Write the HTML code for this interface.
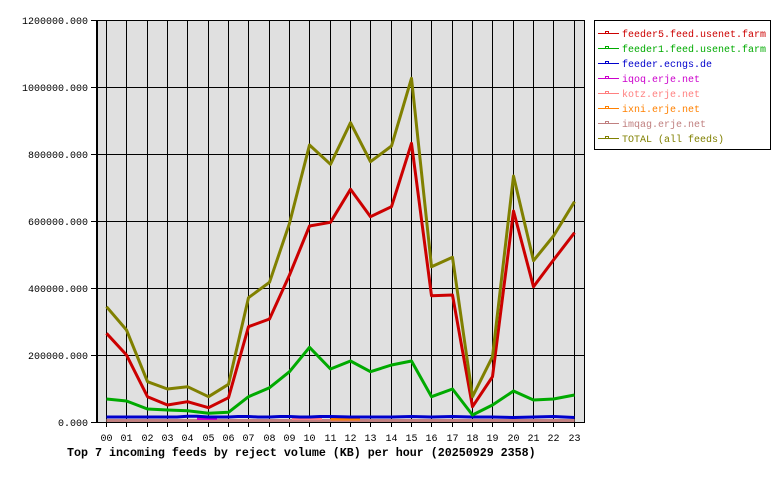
<!DOCTYPE html>
<html><head><meta charset="utf-8"><style>
html,body{margin:0;padding:0;background:#fff;}
svg{display:block;}
text{font-family:"Liberation Mono",monospace;}
</style></head><body>
<svg width="780" height="480" viewBox="0 0 780 480" xmlns="http://www.w3.org/2000/svg">
<rect x="0" y="0" width="780" height="480" fill="#fff"/>
<rect x="96" y="20" width="488" height="402" fill="#e0e0e0"/>
<g stroke="#000" stroke-width="1" shape-rendering="crispEdges" fill="none">
<path d="M106.5 20V427M126.5 20V427M147.5 20V427M167.5 20V427M187.5 20V427M208.5 20V427M228.5 20V427M248.5 20V427M269.5 20V427M289.5 20V427M309.5 20V427M330.5 20V427M350.5 20V427M370.5 20V427M391.5 20V427M411.5 20V427M431.5 20V427M452.5 20V427M472.5 20V427M492.5 20V427M513.5 20V427M533.5 20V427M553.5 20V427M574.5 20V427"/>
<path d="M91 20.5H584M91 87.5H584M91 154.5H584M91 221.5H584M91 288.5H584M91 355.5H584M91 422.5H584"/>
<path d="M96.5 20V423M584.5 20V423M97.5 20V423"/>
</g>
<g font-size="10" fill="#000" text-anchor="end">
<text x="88" y="24">1200000.000</text>
<text x="88" y="91">1000000.000</text>
<text x="88" y="158">800000.000</text>
<text x="88" y="225">600000.000</text>
<text x="88" y="292">400000.000</text>
<text x="88" y="359">200000.000</text>
<text x="88" y="426">0.000</text>
</g>
<g font-size="10" fill="#000" text-anchor="middle">
<text x="106.5" y="441">00</text><text x="126.5" y="441">01</text><text x="147.5" y="441">02</text><text x="167.5" y="441">03</text><text x="187.5" y="441">04</text><text x="208.5" y="441">05</text><text x="228.5" y="441">06</text><text x="248.5" y="441">07</text><text x="269.5" y="441">08</text><text x="289.5" y="441">09</text><text x="309.5" y="441">10</text><text x="330.5" y="441">11</text><text x="350.5" y="441">12</text><text x="370.5" y="441">13</text><text x="391.5" y="441">14</text><text x="411.5" y="441">15</text><text x="431.5" y="441">16</text><text x="452.5" y="441">17</text><text x="472.5" y="441">18</text><text x="492.5" y="441">19</text><text x="513.5" y="441">20</text><text x="533.5" y="441">21</text><text x="553.5" y="441">22</text><text x="574.5" y="441">23</text>
</g>
<text x="67" y="456" font-size="11.67" font-weight="bold" fill="#000">Top 7 incoming feeds by reject volume (KB) per hour (20250929 2358)</text>
<g fill="none" stroke-width="3" stroke-linejoin="round">
<polyline stroke="#c08080" points="106.5,420.5 574.5,420.5"/>
<polyline stroke="#ff8000" points="330.5,419 350.5,419 360,419"/>
<polyline stroke="#ff8080" points="292,418.5 322,418.5"/>
<polyline stroke="#cc00cc" points="197,418.5 217,418.5"/>
<polyline stroke="#0000cc" points="106.5,417 126.5,417 147.5,417 167.5,417 177,417 187.5,416.3 197,416.3 208.5,417 228.5,417 238,416.5 248.5,416.5 258,417 269.5,417 280,416.5 289.5,416.5 300,417 309.5,417 320,416.5 330.5,416.5 350.5,417 370.5,417 391.5,417 411.5,416.5 431.5,417 452.5,416.5 472.5,417 492.5,417 513.5,417.5 533.5,417 553.5,416.5 574.5,417.5"/>
<polyline stroke="#00aa00" points="106.5,399 126.5,401 147.5,409 167.5,410 187.5,410.7 208.5,413.3 228.5,412.3 248.5,396.7 269.5,387.7 289.5,371.7 309.5,347.3 330.5,369 350.5,361 370.5,371.7 391.5,365 411.5,361 431.5,396.7 452.5,389 472.5,415 492.5,405 513.5,391 533.5,400 553.5,399 574.5,395"/>
<polyline stroke="#cc0000" points="106.5,333.3 126.5,355 147.5,396.7 167.5,405 187.5,401.7 208.5,407.7 228.5,397.7 248.5,326.7 269.5,319 289.5,275 309.5,226 330.5,222.3 350.5,189.3 370.5,216.7 391.5,206.7 411.5,143.3 431.5,295.7 452.5,295 472.5,406.7 492.5,376.7 513.5,211 533.5,286.7 553.5,260 574.5,232.7"/>
<polyline stroke="#808000" points="106.5,306.7 126.5,330 147.5,381.7 167.5,389 187.5,386.7 208.5,396.7 228.5,384.3 248.5,297.7 269.5,282.3 289.5,223.3 309.5,145 330.5,164.3 350.5,122.7 370.5,161.7 391.5,146 411.5,78.3 431.5,266.7 452.5,257.3 472.5,396.7 492.5,356.7 513.5,176 533.5,260.7 553.5,236 574.5,201.7"/>
</g>
<rect x="594.5" y="20.5" width="176" height="129" fill="#fff" stroke="#000" stroke-width="1" shape-rendering="crispEdges"/>
<g stroke-width="1" fill="none" shape-rendering="crispEdges">
<g stroke="#cc0000"><path d="M598 33.5H619"/><rect x="605.5" y="31.5" width="3" height="2"/></g>
<g stroke="#00aa00"><path d="M598 48.5H619"/><rect x="605.5" y="46.5" width="3" height="2"/></g>
<g stroke="#0000cc"><path d="M598 63.5H619"/><rect x="605.5" y="61.5" width="3" height="2"/></g>
<g stroke="#cc00cc"><path d="M598 78.5H619"/><rect x="605.5" y="76.5" width="3" height="2"/></g>
<g stroke="#ff8080"><path d="M598 93.5H619"/><rect x="605.5" y="91.5" width="3" height="2"/></g>
<g stroke="#ff8000"><path d="M598 108.5H619"/><rect x="605.5" y="106.5" width="3" height="2"/></g>
<g stroke="#c08080"><path d="M598 123.5H619"/><rect x="605.5" y="121.5" width="3" height="2"/></g>
<g stroke="#808000"><path d="M598 138.5H619"/><rect x="605.5" y="136.5" width="3" height="2"/></g>
</g>
<g font-size="10">
<text x="622" y="37" fill="#cc0000">feeder5.feed.usenet.farm</text>
<text x="622" y="52" fill="#00aa00">feeder1.feed.usenet.farm</text>
<text x="622" y="67" fill="#0000cc">feeder.ecngs.de</text>
<text x="622" y="82" fill="#cc00cc">iqoq.erje.net</text>
<text x="622" y="97" fill="#ff8080">kotz.erje.net</text>
<text x="622" y="112" fill="#ff8000">ixni.erje.net</text>
<text x="622" y="127" fill="#c08080">imqag.erje.net</text>
<text x="622" y="142" fill="#808000">TOTAL (all feeds)</text>
</g>
</svg>
</body></html>
